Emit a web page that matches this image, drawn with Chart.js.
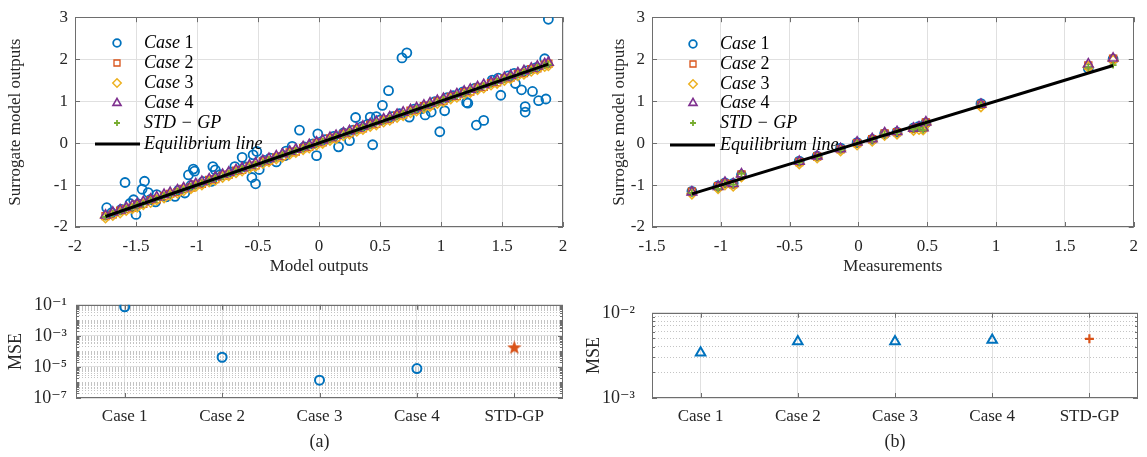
<!DOCTYPE html>
<html>
<head>
<meta charset="utf-8">
<script src="https://cdn.jsdelivr.net/npm/chart.js@4.4.1/dist/chart.umd.min.js"></script>
<style>
  html, body { margin: 0; padding: 0; background: #fff; }
  #wrap { position: relative; width: 1147px; height: 457px; overflow: hidden; }
  canvas { position: absolute; }
</style>
</head>
<body>
<div id="wrap">
  <canvas id="fitModel" width="600" height="285" style="left:0;top:0"></canvas>
  <canvas id="fitMeas" width="547" height="285" style="left:600px;top:0"></canvas>
  <canvas id="mseModel" width="580" height="172" style="left:0;top:285px"></canvas>
  <canvas id="mseMeas" width="567" height="172" style="left:580px;top:285px"></canvas>
</div>
<script>
// ---- data: (a) model outputs vs surrogate outputs ----
const modelX = [-1.75,-1.69,-1.63,-1.58,-1.53,-1.49,-1.44,-1.38,-1.33,-1.27,
  -1.22,-1.16,-1.11,-1.05,-1.01,-0.96,-0.90,-0.85,-0.79,-0.74,
  -0.68,-0.63,-0.57,-0.52,-0.46,-0.41,-0.35,-0.30,-0.24,-0.19,
  -0.13,-0.08,-0.02,0.03,0.09,0.14,0.20,0.25,0.31,0.36,
  0.42,0.47,0.53,0.58,0.64,0.69,0.75,0.80,0.86,0.91,
  0.97,1.02,1.08,1.13,1.19,1.24,1.30,1.35,1.41,1.46,
  1.52,1.57,1.63,1.68,1.74,1.79,1.85,1.88];
const case2Y = [-1.74,-1.70,-1.61,-1.57,-1.54,-1.47,-1.45,-1.36,-1.34,-1.26,
  -1.21,-1.17,-1.09,-1.06,-0.99,-0.97,-0.88,-0.86,-0.78,-0.75,
  -0.66,-0.64,-0.56,-0.53,-0.44,-0.42,-0.34,-0.31,-0.22,-0.20,
  -0.12,-0.09,0.00,0.02,0.11,0.13,0.22,0.24,0.33,0.35,
  0.44,0.46,0.55,0.57,0.66,0.68,0.77,0.79,0.88,0.90,
  0.99,1.01,1.10,1.12,1.21,1.23,1.32,1.34,1.43,1.45,
  1.54,1.56,1.65,1.67,1.76,1.78,1.87,1.89];
const case3Y = [-1.78,-1.72,-1.66,-1.60,-1.56,-1.52,-1.46,-1.41,-1.35,-1.30,
  -1.24,-1.19,-1.13,-1.08,-1.03,-0.99,-0.92,-0.88,-0.81,-0.77,
  -0.70,-0.66,-0.59,-0.55,-0.48,-0.44,-0.37,-0.33,-0.26,-0.22,
  -0.15,-0.11,-0.04,0.00,0.07,0.11,0.18,0.22,0.29,0.33,
  0.40,0.44,0.51,0.55,0.62,0.66,0.73,0.77,0.84,0.88,
  0.95,0.99,1.06,1.10,1.17,1.21,1.28,1.32,1.39,1.43,
  1.50,1.54,1.61,1.65,1.72,1.76,1.83,1.85];
const case4Y = [-1.72,-1.65,-1.60,-1.54,-1.49,-1.45,-1.40,-1.34,-1.29,-1.23,
  -1.18,-1.12,-1.07,-1.01,-0.97,-0.92,-0.86,-0.81,-0.75,-0.70,
  -0.64,-0.59,-0.53,-0.48,-0.42,-0.37,-0.31,-0.26,-0.20,-0.15,
  -0.09,-0.04,0.02,0.07,0.13,0.18,0.24,0.29,0.35,0.40,
  0.46,0.51,0.57,0.62,0.68,0.73,0.79,0.84,0.90,0.95,
  1.01,1.06,1.12,1.17,1.23,1.28,1.34,1.39,1.45,1.50,
  1.56,1.61,1.67,1.72,1.78,1.83,1.89,1.92];
const stdgpY = [-1.76,-1.68,-1.64,-1.57,-1.54,-1.48,-1.45,-1.37,-1.34,-1.26,
  -1.23,-1.15,-1.12,-1.04,-1.02,-0.95,-0.91,-0.84,-0.80,-0.73,
  -0.69,-0.62,-0.58,-0.51,-0.47,-0.40,-0.36,-0.29,-0.25,-0.18,
  -0.14,-0.07,-0.03,0.04,0.08,0.15,0.19,0.26,0.30,0.37,
  0.41,0.48,0.52,0.59,0.63,0.70,0.74,0.81,0.85,0.92,
  0.96,1.03,1.07,1.14,1.18,1.25,1.29,1.36,1.40,1.47,
  1.51,1.58,1.62,1.69,1.73,1.80,1.84,1.87];
const case1X = [-1.70,-1.62,-1.48,-1.38,-1.25,-1.15,-1.05,-0.95,-0.88,-0.72,
  -0.60,-0.45,-0.40,-0.28,-0.12,-0.05,0.05,0.12,0.20,0.28,
  0.35,0.40,0.50,0.60,0.66,0.78,0.84,0.95,1.05,1.10,
  1.18,1.28,1.42,1.47,1.55,1.60,1.70,1.78,
  1.88,1.85,1.86,1.80,1.69,1.69,1.66,1.75,1.61,1.49,
  1.35,1.29,1.21,1.22,1.03,0.99,0.92,0.87,0.74,0.68,
  0.72,0.57,0.52,0.44,0.47,0.42,0.30,0.25,0.16,-0.02,
  -0.01,-0.16,-0.22,-0.27,-0.35,-0.51,-0.54,-0.52,-0.55,-0.49,
  -0.63,-0.69,-0.87,-0.85,-0.81,-1.03,-1.02,-1.07,-1.10,-1.18,
  -1.33,-1.34,-1.43,-1.40,-1.45,-1.59,-1.50,-1.52,-1.55,-1.74];
const case1Y = [-1.66,-1.58,-1.45,-1.34,-1.28,-1.12,-1.01,-0.92,-0.91,-0.69,
  -0.57,-0.41,-0.36,-0.30,-0.09,-0.02,0.08,0.16,0.24,0.31,
  0.39,0.45,0.55,0.63,0.70,0.81,0.82,0.99,1.08,1.13,
  1.22,1.31,1.50,1.55,1.60,1.66,1.72,1.80,
  2.95,2.01,1.05,1.01,0.87,0.74,1.27,1.23,1.42,1.14,
  0.54,0.43,0.97,0.95,0.77,0.27,0.74,0.67,0.62,2.03,
  2.15,1.25,0.90,-0.04,0.63,0.62,0.61,0.06,-0.09,-0.30,
  0.22,0.31,-0.08,-0.19,-0.45,-0.20,-0.28,-0.97,-0.82,-0.63,
  -0.34,-0.56,-0.56,-0.64,-0.75,-0.62,-0.67,-0.76,-1.19,-1.27,
  -1.23,-1.40,-0.91,-1.18,-1.10,-0.94,-1.70,-1.35,-1.44,-1.54];

// ---- data: (b) measurements vs surrogate outputs ----
const measX = [-1.21,-1.02,-0.97,-0.91,-0.85,-0.43,-0.30,-0.13,-0.01,0.10,0.19,0.28,0.40,0.44,0.47,0.49,0.89,1.67,1.85];
const measCase1 = [-1.15,-1.02,-0.95,-0.96,-0.76,-0.43,-0.31,-0.12,0.01,0.09,0.22,0.26,0.36,0.40,0.38,0.48,0.94,1.78,2.00];
const measCase2 = [-1.16,-1.03,-0.96,-0.98,-0.75,-0.45,-0.32,-0.15,0.00,0.09,0.23,0.26,0.34,0.37,0.37,0.49,0.91,1.85,2.01];
const measCase3 = [-1.21,-1.08,-0.99,-1.02,-0.80,-0.49,-0.35,-0.18,-0.04,0.05,0.19,0.22,0.31,0.33,0.32,0.45,0.87,1.81,1.97];
const measCase4 = [-1.17,-1.04,-0.94,-0.97,-0.74,-0.44,-0.31,-0.14,0.02,0.10,0.24,0.27,0.35,0.38,0.36,0.50,0.92,1.88,2.02];
const measStdgp = [-1.19,-1.09,-0.97,-0.99,-0.73,-0.46,-0.33,-0.16,-0.01,0.08,0.21,0.25,0.33,0.36,0.31,0.47,0.90,1.80,1.86];

// ---- data: MSE ----
const caseLabels = ['Case 1', 'Case 2', 'Case 3', 'Case 4', 'STD-GP'];
const mseModelCases = [0.075, 4.2e-5, 1.4e-6, 7.9e-6];
const mseModelStd = 1.7e-4;
const mseMeasCases = [3.4e-3, 4.6e-3, 4.6e-3, 4.8e-3];
const mseMeasStd = 4.95e-3;

const SERIF = '"Liberation Serif", "DejaVu Serif", serif';
const BLUE = '#0072BD', ORANGE = '#D95319', YELLOW = '#EDB120', PURPLE = '#7E2F8E', GREEN = '#77AC30';
const GRID = '#e0e0e0';
const FRAME = '#6e6e6e';

Chart.defaults.font.family = SERIF;
Chart.defaults.font.size = 17;
Chart.defaults.color = '#262626';

const pts = (xs, ys) => xs.map((x, i) => ({ x, y: ys[i] }));

function starCanvas(size, color) {
  const c = document.createElement('canvas');
  c.width = c.height = size;
  const g = c.getContext('2d');
  const R = size / 2, r = R * 0.42;
  g.beginPath();
  for (let i = 0; i < 10; i++) {
    const ang = -Math.PI / 2 + i * Math.PI / 5;
    const rad = i % 2 ? r : R;
    g.lineTo(R + rad * Math.cos(ang), R + rad * Math.sin(ang));
  }
  g.closePath();
  g.fillStyle = color;
  g.fill();
  return c;
}

// box around the axes + inward tick marks (MATLAB style)
const framePlugin = {
  id: 'frame',
  beforeDatasetsDraw(chart, args, opts) {
    const { ctx, chartArea: a } = chart;
    ctx.save();
    ctx.strokeStyle = FRAME;
    ctx.lineWidth = 1;
    Object.keys(opts.ticks || {}).forEach(id => {
      const s = chart.scales[id];
      const len = opts.ticks[id];
      if (!s) return;
      s.ticks.forEach((t, i) => {
        ctx.beginPath();
        if (s.isHorizontal()) {
          const px = Math.round(s.getPixelForTick(i)) + 0.5;
          ctx.moveTo(px, a.bottom); ctx.lineTo(px, a.bottom - len);
          ctx.moveTo(px, a.top); ctx.lineTo(px, a.top + len);
        } else {
          const py = Math.round(s.getPixelForTick(i)) + 0.5;
          ctx.moveTo(a.left, py); ctx.lineTo(a.left + len, py);
          ctx.moveTo(a.right, py); ctx.lineTo(a.right - len, py);
        }
        ctx.stroke();
      });
    });
    ctx.strokeRect(Math.round(a.left) + 0.5, Math.round(a.top) + 0.5, Math.round(a.width) - 1, Math.round(a.height) - 1);
    ctx.restore();
  }
};

function drawLegendText(ctx, text, x, y) {
  ctx.fillStyle = '#000';
  ctx.textBaseline = 'middle';
  ctx.textAlign = 'left';
  const m = text.match(/^(Case )(\d)$/);
  ctx.font = 'italic 18px ' + SERIF;
  if (m) {
    ctx.fillText(m[1], x, y);
    const w = ctx.measureText(m[1]).width;
    ctx.font = '18px ' + SERIF;
    ctx.fillText(m[2], x + w, y);
  } else {
    ctx.fillText(text, x, y);
  }
}

const innerLegend = {
  id: 'innerLegend',
  afterDraw(chart, args, opts) {
    if (!opts.rows) return;
    const ctx = chart.ctx;
    ctx.save();
    chart.data.datasets.forEach((ds, i) => {
      const y = opts.rows[i];
      if (ds.showLine) {
        ctx.strokeStyle = ds.borderColor;
        ctx.lineWidth = ds.borderWidth;
        ctx.beginPath();
        ctx.moveTo(opts.lineX[0], y);
        ctx.lineTo(opts.lineX[1], y);
        ctx.stroke();
      } else {
        ctx.strokeStyle = ds.borderColor;
        ctx.fillStyle = ds.backgroundColor;
        ctx.lineWidth = ds.borderWidth;
        Chart.helpers.drawPoint(ctx, {
          pointStyle: ds.pointStyle, rotation: 0,
          radius: ds.pointRadius * 0.85, borderWidth: ds.borderWidth
        }, opts.markX, y);
      }
      drawLegendText(ctx, ds.label, opts.textX, y);
    });
    ctx.restore();
  }
};

Chart.register(framePlugin, innerLegend);

function fitDatasets(xs, c1x, c1y, y2, y3, y4, ys) {
  const lo = Math.min(...xs), hi = Math.max(...xs);
  return [
    { label: 'Case 1', data: pts(c1x, c1y), pointStyle: 'circle', pointRadius: 4.5, borderWidth: 1.8,
      borderColor: BLUE, backgroundColor: 'rgba(0,0,0,0)', order: 5 },
    { label: 'Case 2', data: pts(xs, y2), pointStyle: 'rect', pointRadius: 5, borderWidth: 1.3,
      borderColor: ORANGE, backgroundColor: 'rgba(0,0,0,0)', order: 4 },
    { label: 'Case 3', data: pts(xs, y3), pointStyle: 'rectRot', pointRadius: 5, borderWidth: 1.5,
      borderColor: YELLOW, backgroundColor: 'rgba(0,0,0,0)', order: 3 },
    { label: 'Case 4', data: pts(xs, y4), pointStyle: 'triangle', pointRadius: 5.5, borderWidth: 1.6,
      borderColor: PURPLE, backgroundColor: 'rgba(0,0,0,0)', order: 2 },
    { label: 'STD − GP', data: pts(xs, ys), pointStyle: 'cross', pointRadius: 3.5, borderWidth: 1.8,
      borderColor: GREEN, backgroundColor: GREEN, order: 1 },
    { label: 'Equilibrium line', data: [{ x: lo, y: lo }, { x: hi, y: hi }], showLine: true,
      pointRadius: 0, borderWidth: 3, borderColor: '#000', backgroundColor: '#000', order: 0 }
  ];
}

const plainNum = v => String(+Number(v).toFixed(2));

function fitOptions(o) {
  return {
    responsive: false,
    animation: false,
    events: [],
    layout: { padding: { top: 16, right: o.padRight, bottom: 0, left: 0 } },
    plugins: {
      legend: { display: false },
      tooltip: { enabled: false },
      frame: { ticks: { x: 5, y: 5 } },
      innerLegend: o.legend
    },
    scales: {
      x: {
        type: 'linear', min: o.xMin, max: 2,
        ticks: { stepSize: 0.5, padding: 9, autoSkip: false, maxRotation: 0, callback: plainNum },
        grid: { color: GRID, drawTicks: false },
        border: { display: false },
        title: { display: true, text: o.xTitle, padding: { top: 0, bottom: 8 } },
        afterFit: s => { s.height = 58; }
      },
      y: {
        type: 'linear', min: -2, max: 3,
        ticks: { stepSize: 1, padding: 7, callback: plainNum },
        grid: { color: GRID, drawTicks: false },
        border: { display: false },
        title: { display: true, text: 'Surrogate model outputs', padding: { top: o.yTitlePad, bottom: 0 } },
        afterFit: s => { s.width = o.yWidth; }
      }
    }
  };
}

new Chart(document.getElementById('fitModel'), {
  type: 'scatter',
  data: { datasets: fitDatasets(modelX, case1X, case1Y, case2Y, case3Y, case4Y, stdgpY) },
  options: fitOptions({
    xMin: -2, xTitle: 'Model outputs', padRight: 37, yWidth: 75, yTitlePad: 5,
    legend: { markX: 117, textX: 144, lineX: [95, 140], rows: [43, 63, 83, 103, 123, 144] }
  })
});

new Chart(document.getElementById('fitMeas'), {
  type: 'scatter',
  data: { datasets: fitDatasets(measX, measX, measCase1, measCase2, measCase3, measCase4, measStdgp) },
  options: fitOptions({
    xMin: -1.5, xTitle: 'Measurements', padRight: 9, yWidth: 52, yTitlePad: 9,
    legend: { markX: 93, textX: 120, lineX: [70, 115], rows: [44, 64, 84, 103, 123, 145] }
  })
});

// ---- MSE charts ----
const SUP = { '-': '⁻', '0': '⁰', '1': '¹', '2': '²', '3': '³', '4': '⁴', '5': '⁵', '6': '⁶', '7': '⁷', '8': '⁸', '9': '⁹' };
const powLabel = v => '10' + String(Math.round(Math.log10(v))).split('').map(ch => SUP[ch]).join('');

function logTicks(minExp, maxExp, majorExps) {
  const major = [], minor = [];
  for (let e = minExp; e <= maxExp; e++) {
    for (let k = 1; k <= 9; k++) {
      if (e === maxExp && k > 1) break;
      const v = k * Math.pow(10, e);
      if (k === 1 && majorExps.includes(e)) major.push(v); else minor.push(v);
    }
  }
  return { major, minor };
}

function mseOptions(o) {
  const t = logTicks(o.minExp, o.maxExp, o.majorExps);
  return {
    responsive: false,
    animation: false,
    events: [],
    layout: { padding: { top: 17, right: o.padRight, bottom: 0, left: 0 } },
    plugins: {
      legend: { display: false },
      tooltip: { enabled: false },
      frame: { ticks: { x: 5, y: 5, ym: 3 } }
    },
    scales: {
      x: {
        type: 'category', offset: true,
        ticks: { padding: 8, autoSkip: false, maxRotation: 0 },
        grid: { color: GRID, drawTicks: false, offset: false },
        border: { display: false },
        title: { display: true, text: o.tag, font: { size: 18 }, padding: { top: 0, bottom: 4 } },
        afterFit: s => { s.height = 59; }
      },
      y: {
        type: 'logarithmic', position: 'left',
        min: Math.pow(10, o.minExp), max: Math.pow(10, o.maxExp),
        ticks: { padding: o.tickPad, autoSkip: false, callback: v => powLabel(v), font: { size: 18 } },
        afterBuildTicks: s => { s.ticks = t.major.map(v => ({ value: v })); },
        grid: { color: GRID, drawTicks: false },
        border: { display: false },
        title: { display: true, text: 'MSE', font: { size: 18 }, padding: { top: o.yTitlePad, bottom: 0 } },
        afterFit: s => { s.width = o.yWidth; }
      },
      ym: {
        type: 'logarithmic', position: 'left',
        min: Math.pow(10, o.minExp), max: Math.pow(10, o.maxExp),
        ticks: { display: false, autoSkip: false },
        afterBuildTicks: s => { s.ticks = t.minor.map(v => ({ value: v })); },
        grid: { color: '#c4c4c4', drawTicks: false, lineWidth: 1 },
        border: { display: false, dash: [1, 2] },
        afterFit: s => { s.width = 0; }
      }
    }
  };
}

new Chart(document.getElementById('mseModel'), {
  type: 'line',
  data: {
    labels: caseLabels,
    datasets: [
      { label: 'Cases', data: caseLabels.map((c, i) => i < mseModelCases.length ? mseModelCases[i] : null),
        showLine: false, pointStyle: 'circle', pointRadius: 4.5, borderWidth: 2,
        borderColor: BLUE, backgroundColor: 'rgba(0,0,0,0)' },
      { label: 'STD-GP', data: caseLabels.map((c, i) => i === 4 ? mseModelStd : null),
        showLine: false, pointStyle: starCanvas(15, ORANGE), pointRadius: 7,
        borderColor: ORANGE, backgroundColor: ORANGE }
    ]
  },
  options: mseOptions({
    tag: '(a)', minExp: -7, maxExp: -1, majorExps: [-7, -5, -3, -1],
    padRight: 17, yWidth: 76, yTitlePad: 5, tickPad: 9
  })
});

new Chart(document.getElementById('mseMeas'), {
  type: 'line',
  data: {
    labels: caseLabels,
    datasets: [
      { label: 'Cases', data: caseLabels.map((c, i) => i < mseMeasCases.length ? mseMeasCases[i] : null),
        showLine: false, pointStyle: 'triangle', pointRadius: 5.5, borderWidth: 2,
        borderColor: BLUE, backgroundColor: 'rgba(0,0,0,0)' },
      { label: 'STD-GP', data: caseLabels.map((c, i) => i === 4 ? mseMeasStd : null),
        showLine: false, pointStyle: 'cross', pointRadius: 4.5, borderWidth: 2.2,
        borderColor: ORANGE, backgroundColor: ORANGE }
    ]
  },
  options: mseOptions({
    tag: '(b)', minExp: -3, maxExp: -2, majorExps: [-3, -2],
    padRight: 9, yWidth: 72, yTitlePad: 3, tickPad: 17
  })
});
</script>
</body>
</html>
